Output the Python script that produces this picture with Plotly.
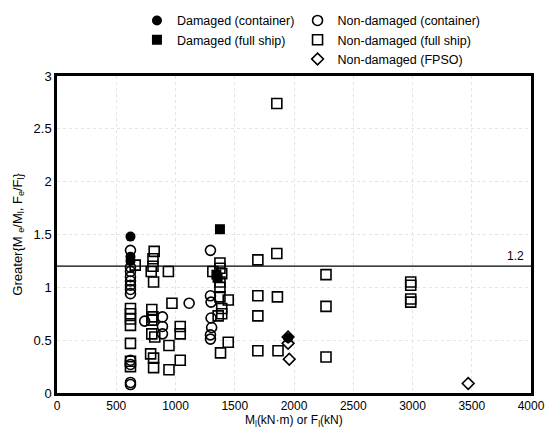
import plotly.graph_objects as go

# Damaged (container)
dc_x = [620, 620, 620, 1950]
dc_y = [1.48, 1.29, 1.25, 0.52]
# Damaged (full ship)
df_x = [1375, 1355, 1345]
df_y = [1.55, 1.09, 1.12]
# Non-damaged (container)
nc_x = [620, 620, 620, 620, 620, 620, 620, 620, 620, 620, 620, 620,
        740, 890, 890, 890, 1115,
        1295, 1295, 1300, 1300, 1305, 1295, 1295]
nc_y = [1.35, 1.19, 1.15, 1.10, 1.06, 1.02, 0.98, 0.94, 0.31, 0.27, 0.10, 0.08,
        0.68, 0.72, 0.63, 0.56, 0.85,
        1.35, 0.92, 0.86, 0.71, 0.62, 0.55, 0.51]
# Non-damaged (full ship)
nf_x = [620, 620, 620, 620, 620, 620, 620, 660,
        820, 810, 810, 795, 815, 940, 800, 810, 800, 800, 825, 790, 815, 815,
        945, 945, 970, 1040, 1040, 1040,
        1375, 1375, 1315, 1390, 1375, 1375, 1375, 1445, 1390, 1360, 1390, 1445, 1380,
        1695, 1855, 1855, 1695, 1860, 1695, 1695, 1865,
        2270, 2270, 2270, 2985, 2985, 2985, 2985]
nf_y = [0.80, 0.75, 0.70, 0.64, 0.47, 0.30, 0.25, 1.21,
        1.34, 1.27, 1.20, 1.15, 1.05, 1.15, 0.79, 0.72, 0.69, 0.56, 0.53, 0.37, 0.33, 0.24,
        0.45, 0.22, 0.85, 0.63, 0.56, 0.31,
        1.23, 1.18, 1.15, 1.13, 1.05, 1.00, 0.91, 0.88, 0.80, 0.73, 0.75, 0.48, 0.38,
        1.26, 1.32, 2.74, 0.92, 0.91, 0.73, 0.40, 0.40,
        1.12, 0.82, 0.34, 1.05, 1.02, 0.89, 0.86]
# Non-damaged (FPSO)
fp_x = [1950, 1950, 1960, 3470]
fp_y = [0.53, 0.47, 0.32, 0.09]

x_ticks = [0, 500, 1000, 1500, 2000, 2500, 3000, 3500, 4000]
y_ticks = [0, 0.5, 1, 1.5, 2, 2.5, 3]
y_tick_text = ["0", "0.5", "1", "1.5", "2", "2.5", "3"]
limit_value = 1.2
x_title = "M<sub>l</sub>(kN·m) or F<sub>l</sub>(kN)"
y_title = "Greater{M <sub>e</sub>/M<sub>l</sub>, F<sub>e</sub>/F<sub>l</sub>}"

FONT = "Liberation Sans, Arial, sans-serif"

fig = go.Figure()
fig.add_trace(go.Scatter(x=nc_x, y=nc_y, mode="markers", name="Non-damaged (container)",
                         marker=dict(symbol="circle-open", size=10, color="black", line=dict(width=1.6)),
                         legend="legend2"))
fig.add_trace(go.Scatter(x=nf_x, y=nf_y, mode="markers", name="Non-damaged (full ship)",
                         marker=dict(symbol="square-open", size=10, color="black", line=dict(width=1.6)),
                         legend="legend2"))
fig.add_trace(go.Scatter(x=fp_x, y=fp_y, mode="markers", name="Non-damaged (FPSO)",
                         marker=dict(symbol="diamond-open", size=9, color="black", line=dict(width=1.6)),
                         legend="legend2"))
fig.add_trace(go.Scatter(x=dc_x, y=dc_y, mode="markers", name="Damaged (container)",
                         marker=dict(symbol="circle", size=10, color="black"),
                         legend="legend"))
fig.add_trace(go.Scatter(x=df_x, y=df_y, mode="markers", name="Damaged (full ship)",
                         marker=dict(symbol="square", size=10, color="black"),
                         legend="legend"))

fig.add_hline(y=limit_value, line=dict(color="black", width=1.2))
fig.add_annotation(x=3960, y=limit_value, text="1.2", showarrow=False,
                   xanchor="right", yanchor="bottom", yshift=1,
                   font=dict(size=12, color="black", family=FONT))
fig.add_annotation(xref="paper", yref="paper", x=0.5, y=-0.088, text=x_title,
                   showarrow=False, xanchor="center", yanchor="middle",
                   font=dict(size=12, color="black", family=FONT))
fig.add_annotation(xref="paper", yref="paper", x=-0.082, y=0.5, text=y_title,
                   showarrow=False, xanchor="center", yanchor="middle", textangle=-90,
                   font=dict(size=13, color="black", family=FONT))

fig.update_layout(
    width=550, height=448,
    margin=dict(l=57, r=19, t=76, b=55, autoexpand=False),
    paper_bgcolor="white", plot_bgcolor="white",
    font=dict(family=FONT, size=12, color="black"),
    legend=dict(x=0.249, y=0.987, xref="container", yref="container",
                xanchor="left", yanchor="top", orientation="v",
                bgcolor="rgba(0,0,0,0)", font=dict(size=12.5), itemwidth=30, tracegroupgap=0),
    legend2=dict(x=0.541, y=0.987, xref="container", yref="container",
                 xanchor="left", yanchor="top", orientation="v",
                 bgcolor="rgba(0,0,0,0)", font=dict(size=12.5), itemwidth=30, tracegroupgap=0),
    showlegend=True,
)
fig.update_xaxes(range=[0, 4000], tickvals=x_ticks, ticks="", showline=True, linecolor="black",
                 linewidth=2.5, mirror=True, showgrid=True, gridcolor="#e4e4e4", griddash="dot",
                 gridwidth=1, zeroline=False, tickfont=dict(size=12))
fig.update_yaxes(range=[0, 3], tickvals=y_ticks, ticktext=y_tick_text, ticks="", showline=True,
                 linecolor="black", linewidth=2.5, mirror=True, showgrid=True, gridcolor="#e4e4e4",
                 griddash="dot", gridwidth=1, zeroline=False, tickfont=dict(size=13))

fig.write_html("out.html")
